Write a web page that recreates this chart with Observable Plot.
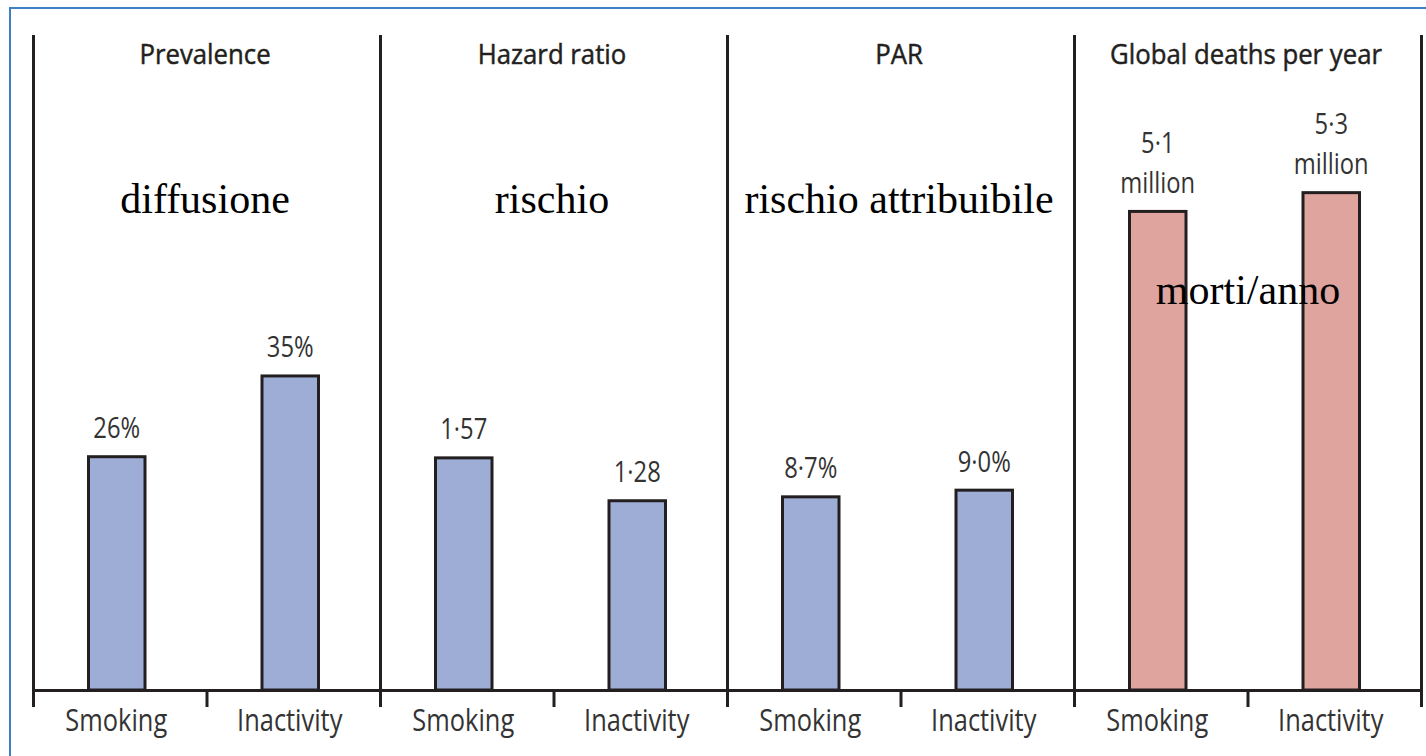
<!DOCTYPE html>
<html><head><meta charset="utf-8">
<script src="https://cdn.jsdelivr.net/npm/d3@7"></script>
<script src="https://cdn.jsdelivr.net/npm/@observablehq/plot@0.6"></script>
<style>
html,body{margin:0;padding:0;background:#fff;overflow:hidden;width:1426px;height:756px;}
#frame{position:absolute;left:9px;top:7px;width:1430px;height:760px;border-top:2px solid #3f7fc6;border-left:2px solid #3f7fc6;}
#chart{position:absolute;left:0;top:0;}
</style></head><body><div id="frame"></div><div id="chart"></div>
<script>
// ---- data ----
const panels = ["Prevalence", "Hazard ratio", "PAR", "Global deaths per year"];
const categories = ["Smoking", "Inactivity"];
const smokingValues = [26, 1.57, 8.7, 5.1];
const inactivityValues = [35, 1.28, 9.0, 5.3];
const smokingLabels = ["26%", "1·57", "8·7%", "5·1\nmillion"];
const inactivityLabels = ["35%", "1·28", "9·0%", "5·3\nmillion"];
const panelScaleMax = [73, 4.43, 29.5, 6.98];   // top of each panel's own value axis
const italianNotes = ["diffusione", "rischio", "rischio attribuibile", "morti/anno"];

// ---- styles ----
const INK = "#231f20";
const BLUE = "#9eadd6";
const PINK = "#e0a49f";
const SANS = "Open Sans";
const SERIF = "Liberation Serif";
const TITLE_SIZE = 28;

const seriesValues = [smokingValues, inactivityValues];
const seriesLabels = [smokingLabels, inactivityLabels];
const rows = panels.flatMap((p, k) => categories.map((c, i) => ({
  panel: p, category: c, idx: i,
  value: seriesValues[i][k],
  label: seriesLabels[i][k],
  norm: seriesValues[i][k] / panelScaleMax[k]
})));
const panelRows = panels.map((p, k) => ({panel: p, note: italianNotes[k]}));
const lastPanel = panels[panels.length - 1];

const plot = Plot.plot({
  width: 1426, height: 756,
  marginLeft: 33, marginRight: 5, marginTop: 35, marginBottom: 66,
  style: {background: "transparent", overflow: "visible"},
  fx: {domain: panels, padding: 0, axis: null, label: null},
  x: {domain: [0, 2], axis: null},
  y: {domain: [0, 1], axis: null},
  marks: [
    Plot.rectY(rows.filter(d => d.panel !== lastPanel), {fx: "panel", x1: "idx", x2: d => d.idx + 1, y1: 0, y2: "norm",
      insetLeft: 55.5, insetRight: 61.5, fill: BLUE, stroke: INK, strokeWidth: 3}),
    Plot.rectY(rows.filter(d => d.panel === lastPanel), {fx: "panel", x1: "idx", x2: d => d.idx + 1, y1: 0, y2: "norm",
      insetLeft: 55.5, insetRight: 61.5, fill: PINK, stroke: INK, strokeWidth: 3}),
    Plot.ruleX(panelRows, {fx: "panel", x: 0, stroke: INK, strokeWidth: 3}),
    Plot.ruleX(panelRows.filter(d => d.panel === lastPanel), {fx: "panel", x: 2, stroke: INK, strokeWidth: 3}),
    Plot.ruleY([0], {stroke: INK, strokeWidth: 3}),
    Plot.axisX({ticks: [0, 1, 2], tickSize: 17, tickFormat: () => "", stroke: INK, strokeWidth: 3, label: null}),
    Plot.text(panelRows, {fx: "panel", x: 1, frameAnchor: "top", text: "panel", lineAnchor: "bottom", dy: 28, dx: -2,
      fontFamily: SANS, fontSize: TITLE_SIZE, fill: INK, stroke: INK, strokeWidth: 0.5}),
    Plot.text(rows, {fx: "panel", x: d => d.idx + 0.5, y: "norm", text: "label", lineAnchor: "bottom", dy: -19, dx: -3.5,
      fontFamily: SANS, fontSize: 29, lineHeight: 1.38, fill: "#333"}),
    Plot.text(rows, {fx: "panel", x: d => d.idx + 0.5, frameAnchor: "bottom", text: "category", lineAnchor: "bottom", dy: 40, dx: -4,
      fontFamily: SANS, fontSize: 31, fill: "#333"}),
    Plot.text(panelRows.filter(d => d.panel !== lastPanel), {fx: "panel", x: 1, frameAnchor: "top", text: "note", lineAnchor: "bottom", dy: 177, dx: -2,
      fontFamily: SERIF, fontSize: 42, fill: "#000"}),
    Plot.text(panelRows.filter(d => d.panel === lastPanel), {fx: "panel", x: 1, frameAnchor: "top", text: "note", lineAnchor: "bottom", dy: 268,
      fontFamily: SERIF, fontSize: 42, fill: "#000"})
  ]
});

// narrow the sans-serif labels horizontally to mimic the condensed original face
function squeeze(root, selector, s) {
  root.querySelectorAll(selector).forEach(t => {
    let tr = t.getAttribute("transform") || "";
    const x = t.getAttribute("x"), y = t.getAttribute("y");
    if (x != null || y != null) {
      tr += ` translate(${x || 0},${y || 0})`;
      t.removeAttribute("x"); t.removeAttribute("y");
    }
    t.setAttribute("transform", tr + ` scale(${s},1)`);
  });
}
squeeze(plot, `g[font-family="${SANS}"][font-size="${TITLE_SIZE}"] text`, 0.92);
squeeze(plot, `g[font-family="${SANS}"]:not([font-size="${TITLE_SIZE}"]) text`, 0.82);
document.getElementById("chart").appendChild(plot);
</script></body></html>
